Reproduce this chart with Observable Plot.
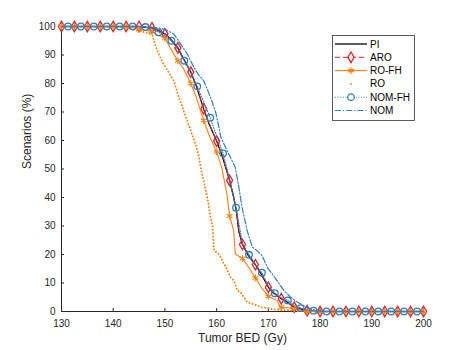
<!DOCTYPE html>
<html>
<head>
<meta charset="utf-8">
<script src="https://cdn.jsdelivr.net/npm/d3@7"></script>
<script src="https://cdn.jsdelivr.net/npm/@observablehq/plot@0.6"></script>
<style>
  html, body { margin: 0; padding: 0; background: #fff; }
  #chart svg { display: block; }
</style>
</head>
<body>
<div id="chart"></div>
<script>
// ---- data ----
const xTicks = [130, 140, 150, 160, 170, 180, 190, 200];
const yTicks = [0, 10, 20, 30, 40, 50, 60, 70, 80, 90, 100];
const xLabel = "Tumor BED (Gy)";
const yLabel = "Scenarios (%)";
const seriesNames = ["PI", "ARO", "RO-FH", "RO", "NOM-FH", "NOM"];

const piX = [130,145,146,147.5,148.5,150,151,152.5,153.5,155,156,157.5,158.5,160,161,162.5,163.3,163.8,164.3,165,166,167.5,168.5,170,171,172.5,173.5,175,176,177.5,179,200];
const piY = [100,100,99.7,99.5,98.8,97.4,95.8,92.5,89,84,79.5,71,66,59.8,55,46,40,35.5,28,23.5,20,16.4,13.5,8.5,6.5,4.5,3.5,1.5,1,0.3,0,0];

const aroX = [130,132.5,135,137.5,140,142.5,145,146,147.5,148.5,150,151,152.5,153.5,155,156,157.5,158.5,160,161,162.5,163.3,163.8,164.3,165,166,167.5,168.5,170,171,172.5,173.5,175,176,177.5,179,180,182.5,185,187.5,190,192.5,195,197.5,200];
const aroY = [100,100,100,100,100,100,100,99.7,99.5,98.7,97.4,95.8,92.5,89.2,84,79.3,71.1,66.2,59.8,55.2,46,40.3,35.2,28.3,23.5,20.2,16.4,13.2,8.5,6.6,4.5,3.4,1.5,1,0.3,0,0,0,0,0,0,0,0,0,0];

const rofhX = [130,132.5,135,137.5,140,142.5,144,145,146,147.5,148.5,150,151,152.5,153.5,155,156,157.5,158.5,160,161,162,162.5,163.3,163.6,165,166.2,167.5,168.8,170,171.7,172.3,172.5,174.3,175,176.2,177,177.5,180,182.5,185,187.5,190,192.5,195,197.5,200];
const rofhY = [100,100,100,100,100,100,99.5,99,98.7,98.3,97,96,92.5,88,85.5,80,75.5,67,62,56,50.5,41,33.5,28.4,20.2,18.6,15.5,11.8,8,5.3,3.9,1.6,1.5,1.2,1,0.5,0,0,0,0,0,0,0,0,0,0,0];

const roX = [130,141,142.5,144,145,146,147,147.6,148.2,148.8,149.5,150.5,151.2,151.7,152.7,153.5,154.3,155.1,155.9,156.6,156.9,157.9,158.4,158.8,159.2,159.5,160.4,160.8,161.4,161.7,162.7,163.3,164,164.6,165.9,166.5,167.8,168.5,170.1,170.4,172,175,176];
const roY = [100,99.8,99.5,99,98.5,98,97.5,96.8,93,90.4,87.5,84.6,82.5,81,75.2,71,67,63,58.8,54.1,50.6,42.5,38,33.1,30,21.4,20.2,19,16.7,16,12,10.9,7.4,6.8,3.3,3,2.1,1.5,1.2,0.9,0.6,0.3,0];

const nfhX = [130,131.25,133.75,136.25,138.75,141.25,143.75,146.25,147.5,148.75,150,151.25,152.5,153.75,155,156.25,157.5,158.75,160,161.25,162.5,163.75,165,166.25,167.5,168.75,170,171.25,172.5,173.75,175,176.25,177.5,178.75,180,181.25,183.75,186.25,188.75,191.25,193.75,196.25,198.75,200];
const nfhY = [100,100,100,100,100,100,100,99.8,99.2,98,96.8,95,92,88,84,79,73.5,68,61.5,55.5,46.5,36.4,24,19.9,16.5,13.6,9,6.4,4.8,3.9,2.2,1.2,0.6,0.3,0,0,0,0,0,0,0,0,0,0];

const nomX = [130,146,148,150,151.7,153,154.3,155.6,156.5,157.5,158.8,159.8,160.4,160.8,162,163.6,164.3,164.9,165.9,166.5,166.9,168,168.8,169.8,171.4,173,174.3,175.6,176.8,178,179.5,181,200];
const nomY = [100,100,99.7,99,97.4,94,90.4,85.7,83,81,75.2,70,65,61.2,56.5,50.6,43.6,36.6,28.4,24.9,22.6,21,19.6,15.5,11.5,7.4,5,3.3,2.1,1,0.3,0,0];

// marker grids (MATLAB MarkerIndices spacing)
const markStep = 2.5;
const markStartA = 130;    // ARO, RO-FH
const markStartC = 131.25; // NOM-FH

// ---- build tables ----
const zip = (xs, ys) => xs.map((x, i) => ({x, y: ys[i]}));
const onGrid = (start) => (d) => {
  const k = (d.x - start) / markStep;
  return k >= -1e-9 && Math.abs(k - Math.round(k)) < 1e-6;
};
const pi = zip(piX, piY), aro = zip(aroX, aroY), rofh = zip(rofhX, rofhY),
      ro = zip(roX, roY), nfh = zip(nfhX, nfhY), nom = zip(nomX, nomY);

const C = {black: "#000000", red: "#e41f26", orange: "#ff7f0e", blue: "#2f7dc0", axis: "#262626"};
const R = {diamond: 3.2, asterisk: 3.2, circle: 3.3};

const W = 467, H = 350;
const plot = Plot.plot({
  width: W, height: H,
  marginLeft: 61, marginRight: 44, marginTop: 26, marginBottom: 39,
  style: {fontFamily: "'Liberation Sans', Arial, sans-serif", fontSize: "10px", background: "#fff", color: C.axis},
  x: {domain: [130, 200]},
  y: {domain: [0, 100]},
  marks: [
    // axes
    Plot.axisX({ticks: xTicks, tickSize: 0, tickPadding: 8, label: null, fontSize: 10}),
    Plot.axisY({ticks: yTicks, tickSize: 0, tickPadding: 6, label: null, fontSize: 10}),
    Plot.axisX({ticks: xTicks, tickSize: -3, tickFormat: () => "", label: null, stroke: C.axis}),
    Plot.axisY({ticks: yTicks, tickSize: -3, tickFormat: () => "", label: null, stroke: C.axis}),
    Plot.ruleY([0], {stroke: C.axis, strokeWidth: 1}),
    Plot.ruleX([130], {stroke: C.axis, strokeWidth: 1}),
    Plot.text([xLabel], {frameAnchor: "bottom", dy: 30, fontSize: 12, fill: C.axis}),
    Plot.text([yLabel], {frameAnchor: "left", dx: -34, rotate: -90, fontSize: 12, fill: C.axis}),
    // PI
    Plot.line(pi, {x: "x", y: "y", stroke: C.black, strokeWidth: 1.3}),
    // ARO
    Plot.line(aro, {x: "x", y: "y", stroke: C.red, strokeWidth: 1, strokeDasharray: "5,3"}),
    Plot.dot(aro.filter(onGrid(markStartA)), {x: "x", y: "y", symbol: "diamond", r: R.diamond, stroke: C.red, fill: "none", strokeWidth: 1.3}),
    // RO-FH
    Plot.line(rofh, {x: "x", y: "y", stroke: C.orange, strokeWidth: 1.1}),
    Plot.dot(rofh.filter(onGrid(markStartA)), {x: "x", y: "y", symbol: "asterisk", r: R.asterisk, stroke: C.orange, strokeWidth: 1.1}),
    // RO (point markers only)
    Plot.line(ro, {x: "x", y: "y", stroke: C.orange, strokeWidth: 1.9, strokeDasharray: "0.1,3.2", strokeLinecap: "round"}),
    // NOM-FH
    Plot.line(nfh, {x: "x", y: "y", stroke: C.blue, strokeWidth: 1.1, strokeDasharray: "1,1.6"}),
    Plot.dot(nfh.filter(onGrid(markStartC)), {x: "x", y: "y", symbol: "circle", r: R.circle, stroke: C.blue, fill: "none", strokeWidth: 1.3}),
    // NOM
    Plot.line(nom, {x: "x", y: "y", stroke: C.blue, strokeWidth: 1.2, strokeDasharray: "6,2,1.2,2"})
  ]
});
document.getElementById("chart").appendChild(plot);

// ---- legend (drawn inside the SVG) ----
const svg = d3.select(plot);
const lg = svg.append("g").attr("font-family", "'Liberation Sans', Arial, sans-serif").attr("font-size", 10);
const box = {x: 332, y: 35, w: 82, h: 85};
lg.append("rect").attr("x", box.x + 0.5).attr("y", box.y + 0.5).attr("width", box.w).attr("height", box.h)
  .attr("fill", "#fff").attr("stroke", "#333").attr("stroke-width", 0.8);
const legendStyles = [
  {stroke: C.black, width: 1.3, dash: null, symbol: null, line: true},
  {stroke: C.red, width: 1, dash: "5,3", symbol: d3.symbolDiamond, size: Math.PI * R.diamond * R.diamond, line: true},
  {stroke: C.orange, width: 1.1, dash: null, symbol: d3.symbolAsterisk, size: Math.PI * R.asterisk * R.asterisk, line: true},
  {stroke: C.orange, width: 1.9, dash: null, symbol: "dot", line: false},
  {stroke: C.blue, width: 1.1, dash: "1,1.6", symbol: d3.symbolCircle, size: Math.PI * R.circle * R.circle, line: true},
  {stroke: C.blue, width: 1.2, dash: "6,2,1.2,2", symbol: null, line: true}
];
seriesNames.forEach((name, i) => {
  const s = legendStyles[i];
  const cy = 44 + i * 13.3;
  const x0 = 335, x1 = 367, cx = (x0 + x1) / 2;
  if (s.line) {
    lg.append("line").attr("x1", x0).attr("x2", x1).attr("y1", cy).attr("y2", cy)
      .attr("stroke", s.stroke).attr("stroke-width", s.width).attr("stroke-dasharray", s.dash);
  }
  if (s.symbol === "dot") {
    lg.append("circle").attr("cx", cx).attr("cy", cy).attr("r", 0.95).attr("fill", s.stroke);
  } else if (s.symbol) {
    lg.append("path").attr("transform", `translate(${cx},${cy})`)
      .attr("d", d3.symbol(s.symbol, s.size)())
      .attr("fill", s.symbol === d3.symbolAsterisk ? "none" : "#fff")
      .attr("stroke", s.stroke).attr("stroke-width", 1.3);
  }
  lg.append("text").attr("x", 370).attr("y", cy).attr("dy", "0.35em")
    .attr("text-anchor", "start").attr("fill", "#000").text(name);
});
</script>
</body>
</html>
